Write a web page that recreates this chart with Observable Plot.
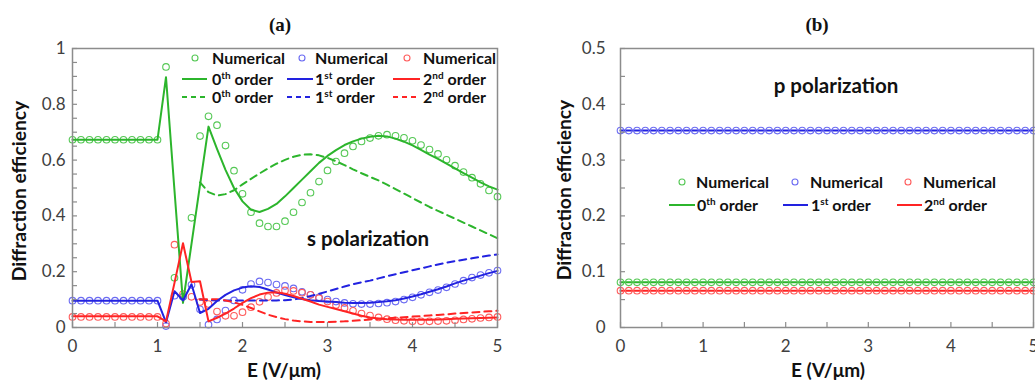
<!DOCTYPE html>
<html><head><meta charset="utf-8">
<script src="https://cdn.jsdelivr.net/npm/d3@7"></script>
<script src="https://cdn.jsdelivr.net/npm/@observablehq/plot@0.6"></script>
<style>
html,body{margin:0;padding:0;background:#fff;}
#root{position:relative;width:1035px;height:383px;overflow:hidden;font-family:Lato,"Open Sans",sans-serif;}
.abs{position:absolute;white-space:nowrap;line-height:1;}
.title{font-family:"Liberation Serif",serif;font-weight:bold;font-size:19px;color:#111;transform:translate(-50%,-50%);}
.axt{font-weight:bold;font-size:19px;color:#111;transform:translate(-50%,-50%);}
.axty{font-weight:bold;font-size:19.3px;color:#111;transform:translate(-50%,-50%) rotate(-90deg);}
.leg{font-weight:bold;font-size:16px;color:#111;transform:translateY(-50%);}
.leg sup{font-size:10px;vertical-align:0;position:relative;top:-6px;}
.pol{font-weight:bold;font-size:20.5px;color:#111;transform:translate(-50%,-50%);}
svg.glyph{position:absolute;overflow:visible;}
</style></head><body><div id="root"></div>
<script>
// ---------- data ----------
const E = [0,0.1,0.2,0.3,0.4,0.5,0.6,0.7,0.8,0.9,1,1.1,1.2,1.3,1.4,1.5,1.6,1.7,1.8,1.9,2,2.1,2.2,2.3,2.4,2.5,2.6,2.7,2.8,2.9,3,3.1,3.2,3.3,3.4,3.5,3.6,3.7,3.8,3.9,4,4.1,4.2,4.3,4.4,4.5,4.6,4.7,4.8,4.9,5];

// (a) s polarization
const s0Num = [0.673,0.673,0.673,0.673,0.673,0.673,0.673,0.673,0.673,0.673,0.673,
  0.934,0.178,0.11,0.393,0.686,0.757,0.725,0.652,0.562,0.479,0.413,0.374,0.362,0.362,0.381,
  0.413,0.448,0.483,0.523,0.563,0.595,0.625,0.649,0.667,0.679,0.687,0.691,0.687,0.68,0.669,
  0.654,0.638,0.622,0.601,0.58,0.557,0.537,0.515,0.491,0.469];
const s0Solid = [0.673,0.673,0.673,0.673,0.673,0.673,0.673,0.673,0.673,0.673,0.673,
  0.897,0.49,0.088,0.3,0.51,0.72,0.64,0.565,0.5,0.452,0.422,0.414,0.425,0.443,0.47,
  0.5,0.53,0.56,0.59,0.615,0.636,0.654,0.667,0.677,0.684,0.687,0.685,0.677,0.666,0.653,
  0.637,0.62,0.604,0.587,0.57,0.553,0.537,0.52,0.506,0.494];
const s0Dash = [null,null,null,null,null,null,null,null,null,null,null,null,null,null,null,
  0.52,0.485,0.473,0.478,0.492,0.513,0.533,0.552,0.57,0.587,0.601,0.612,0.619,0.621,0.617,
  0.608,0.596,0.582,0.567,0.553,0.54,0.527,0.512,0.496,0.48,0.464,0.448,0.432,0.418,0.404,
  0.39,0.376,0.362,0.348,0.334,0.32];

const s1Num = [0.096,0.096,0.096,0.096,0.096,0.096,0.096,0.096,0.096,0.096,0.096,
  0.005,0.114,0.11,0.153,0.065,0.01,0.029,0.061,0.097,0.135,0.156,0.165,0.161,0.154,0.149,
  0.14,0.128,0.117,0.108,0.1,0.093,0.088,0.085,0.084,0.084,0.086,0.089,0.093,0.1,0.108,
  0.117,0.126,0.134,0.144,0.156,0.168,0.179,0.188,0.196,0.204];
const s1Solid = [0.096,0.096,0.096,0.096,0.096,0.096,0.096,0.096,0.096,0.096,0.096,
  0.018,0.13,0.097,0.155,0.052,0.067,0.095,0.117,0.133,0.143,0.148,0.145,0.136,0.125,0.116,
  0.108,0.102,0.098,0.095,0.093,0.091,0.089,0.088,0.088,0.089,0.091,0.094,0.098,0.104,0.111,
  0.119,0.128,0.137,0.147,0.158,0.168,0.177,0.186,0.195,0.203];
const s1Dash = [null,null,null,null,null,null,null,null,null,null,null,null,null,null,null,
  0.1,0.098,0.097,0.097,0.097,0.097,0.097,0.097,0.097,0.097,0.098,0.1,0.106,0.113,0.121,
  0.129,0.138,0.147,0.155,0.162,0.168,0.176,0.184,0.191,0.198,0.205,0.212,0.219,0.226,0.232,
  0.238,0.243,0.248,0.253,0.258,0.262];

const s2Num = [0.038,0.038,0.038,0.038,0.038,0.038,0.038,0.038,0.038,0.038,0.038,
  0.014,0.297,0.12,0.11,0.091,0.084,0.057,0.042,0.042,0.055,0.073,0.092,0.109,0.124,0.133,
  0.131,0.125,0.117,0.105,0.093,0.081,0.07,0.06,0.05,0.043,0.036,0.03,0.026,0.024,0.022,
  0.022,0.022,0.023,0.024,0.026,0.029,0.031,0.034,0.036,0.038];
const s2Solid = [0.04,0.04,0.04,0.04,0.04,0.04,0.04,0.04,0.04,0.04,0.04,
  0.022,0.16,0.302,0.163,0.166,0.022,0.035,0.05,0.068,0.088,0.105,0.118,0.125,0.126,0.121,
  0.113,0.103,0.093,0.082,0.074,0.066,0.058,0.05,0.042,0.036,0.032,0.03,0.029,0.028,0.028,
  0.028,0.028,0.029,0.03,0.031,0.032,0.033,0.034,0.035,0.036];
const s2Dash = [null,null,null,null,null,null,null,null,null,null,null,null,null,null,null,
  0.1,0.102,0.101,0.097,0.09,0.081,0.07,0.058,0.046,0.037,0.03,0.025,0.022,0.02,0.02,
  0.02,0.021,0.022,0.024,0.026,0.029,0.031,0.033,0.035,0.037,0.039,0.041,0.043,0.045,0.047,
  0.05,0.052,0.054,0.056,0.058,0.06];

// (b) p polarization: constant efficiencies
const p0Level = 0.081;
const p1Level = 0.353;
const p2Level = 0.066;

// tick labels
const xLabels = [0,1,2,3,4,5];
const xMinor = [0,0.5,1,1.5,2,2.5,3,3.5,4,4.5,5];
const yLabelsA = [0,0.2,0.4,0.6,0.8,1];
const yMinorA = [0,0.05,0.1,0.15,0.2,0.25,0.3,0.35,0.4,0.45,0.5,0.55,0.6,0.65,0.7,0.75,0.8,0.85,0.9,0.95,1];
const yLabelsB = [0,0.1,0.2,0.3,0.4,0.5];
const yMinorB = [0,0.05,0.1,0.15,0.2,0.25,0.3,0.35,0.4,0.45,0.5];

// ---------- style ----------
const lineCol = ["#2cb52c","#2222e0","#ff2424"];
const dotCol  = ["#55c855","#6b6bf2","#ff5c5c"];
const frameCol = "#8c8c8c";
const fmt = d => String(+d.toFixed(2));

function rows(ys) { return E.map((x, i) => ({x, y: ys[i]})).filter(d => d.y != null); }

function panel({width, ml, mr, yDomain, yMinor, yLabels, yPad, marks}) {
  const H = 383, mt = 48, mb = 56;
  const pw = width - ml - mr, ph = H - mt - mb;
  return Plot.plot({
    width, height: H, marginLeft: ml, marginRight: mr, marginTop: mt, marginBottom: mb,
    x: {domain: [0, 5]}, y: {domain: yDomain},
    style: {fontFamily: "Lato, sans-serif", fontSize: "17px", color: "#404040", background: "transparent", overflow: "visible"},
    marks: [
      ...marks,
      Plot.frame({stroke: frameCol, strokeWidth: 1.5}),
      Plot.ruleY(yMinor, {y: d => d, stroke: frameCol, strokeWidth: 1.2, insetRight: pw - 5}),
      Plot.ruleX(xMinor, {x: d => d, stroke: frameCol, strokeWidth: 1.2, insetTop: ph - 5}),
      Plot.axisY(yLabels, {tickSize: 0, tickPadding: yPad, tickFormat: fmt, label: null}),
      Plot.axisX(xLabels, {tickSize: 0, tickPadding: 12, tickFormat: fmt, label: null})
    ]
  });
}

const dotOpts = c => ({x: "x", y: "y", r: 3.3, stroke: dotCol[c], strokeWidth: 1.1, fill: "none"});
const solidOpts = c => ({x: "x", y: "y", stroke: lineCol[c], strokeWidth: 2});
const dashOpts = c => ({x: "x", y: "y", stroke: lineCol[c], strokeWidth: 2, strokeDasharray: "7,5"});

const chartA = panel({
  width: 520, ml: 72, mr: 23, yDomain: [0, 1], yMinor: yMinorA, yLabels: yLabelsA, yPad: 7,
  marks: [
    Plot.dot(rows(s0Num), dotOpts(0)),
    Plot.dot(rows(s1Num), dotOpts(1)),
    Plot.dot(rows(s2Num), dotOpts(2)),
    Plot.line(rows(s0Dash), dashOpts(0)),
    Plot.line(rows(s1Dash), dashOpts(1)),
    Plot.line(rows(s2Dash), dashOpts(2)),
    Plot.line(rows(s0Solid), solidOpts(0)),
    Plot.line(rows(s1Solid), solidOpts(1)),
    Plot.line(rows(s2Solid), solidOpts(2))
  ]
});

const pRows = lvl => E.map(x => ({x, y: lvl}));
const chartB = panel({
  width: 515, ml: 100, mr: 2, yDomain: [0, 0.5], yMinor: yMinorB, yLabels: yLabelsB, yPad: 15,
  marks: [
    Plot.line(pRows(p0Level), solidOpts(0)),
    Plot.line(pRows(p1Level), solidOpts(1)),
    Plot.line(pRows(p2Level), solidOpts(2)),
    Plot.dot(pRows(p0Level), dotOpts(0)),
    Plot.dot(pRows(p1Level), dotOpts(1)),
    Plot.dot(pRows(p2Level), dotOpts(2))
  ]
});

const root = document.getElementById("root");
chartA.style.position = "absolute"; chartA.style.left = "0px"; chartA.style.top = "0px";
chartB.style.position = "absolute"; chartB.style.left = "520px"; chartB.style.top = "0px";
root.appendChild(chartA); root.appendChild(chartB);

function add(cls, html, x, y) {
  const d = document.createElement("div");
  d.className = "abs " + cls; d.innerHTML = html;
  d.style.left = x + "px"; d.style.top = y + "px";
  root.appendChild(d); return d;
}
add("title", "(a)", 280, 24);
add("title", "(b)", 817, 24);
add("axt", "E (V/μm)", 284, 369);
add("axt", "E (V/μm)", 828, 369);
add("axty", "Diffraction efficiency", 19, 191);
add("axty", "Diffraction efficiency", 564, 190);
add("pol", "s polarization", 368, 238);
add("pol", "p polarization", 836, 85);

const orderLabels = ["0<sup>th</sup> order", "1<sup>st</sup> order", "2<sup>nd</sup> order"];
function glyph(kind, c, x1, x2, y) {
  const s = document.createElementNS("http://www.w3.org/2000/svg", "svg");
  s.setAttribute("class", "glyph");
  s.setAttribute("width", 1); s.setAttribute("height", 1);
  s.style.left = "0px"; s.style.top = "0px";
  if (kind === "dot") {
    s.innerHTML = `<circle cx="${x1}" cy="${y}" r="3" fill="none" stroke="${dotCol[c]}" stroke-width="1.1"/>`;
  } else {
    s.innerHTML = `<line x1="${x1}" x2="${x2}" y1="${y}" y2="${y}" stroke="${lineCol[c]}" stroke-width="2" ${kind === "dash" ? 'stroke-dasharray="5,4"' : ""}/>`;
  }
  root.appendChild(s);
}
// legend (a)
const legA = {rows: [58, 79, 97], cols: [{dot: 195, l1: 182, l2: 207, t: 212}, {dot: 302, l1: 287, l2: 313, t: 315}, {dot: 407, l1: 393, l2: 420, t: 423}]};
legA.cols.forEach((c, i) => {
  glyph("dot", i, c.dot, 0, legA.rows[0]); add("leg", "Numerical", c.t, legA.rows[0]);
  glyph("solid", i, c.l1, c.l2, legA.rows[1]); add("leg", orderLabels[i], c.t, legA.rows[1]);
  glyph("dash", i, c.l1, c.l2, legA.rows[2]); add("leg", orderLabels[i], c.t, legA.rows[2]);
});
// legend (b)
const legB = {rows: [182, 205], cols: [{dot: 682, l1: 669, l2: 695, t: 697}, {dot: 795, l1: 783, l2: 808, t: 811}, {dot: 908, l1: 897, l2: 922, t: 924}]};
legB.cols.forEach((c, i) => {
  glyph("dot", i, c.dot, 0, legB.rows[0]); add("leg", "Numerical", c.t - 1, legB.rows[0]);
  glyph("solid", i, c.l1, c.l2, legB.rows[1]); add("leg", orderLabels[i], c.t, legB.rows[1]);
});
</script></body></html>
